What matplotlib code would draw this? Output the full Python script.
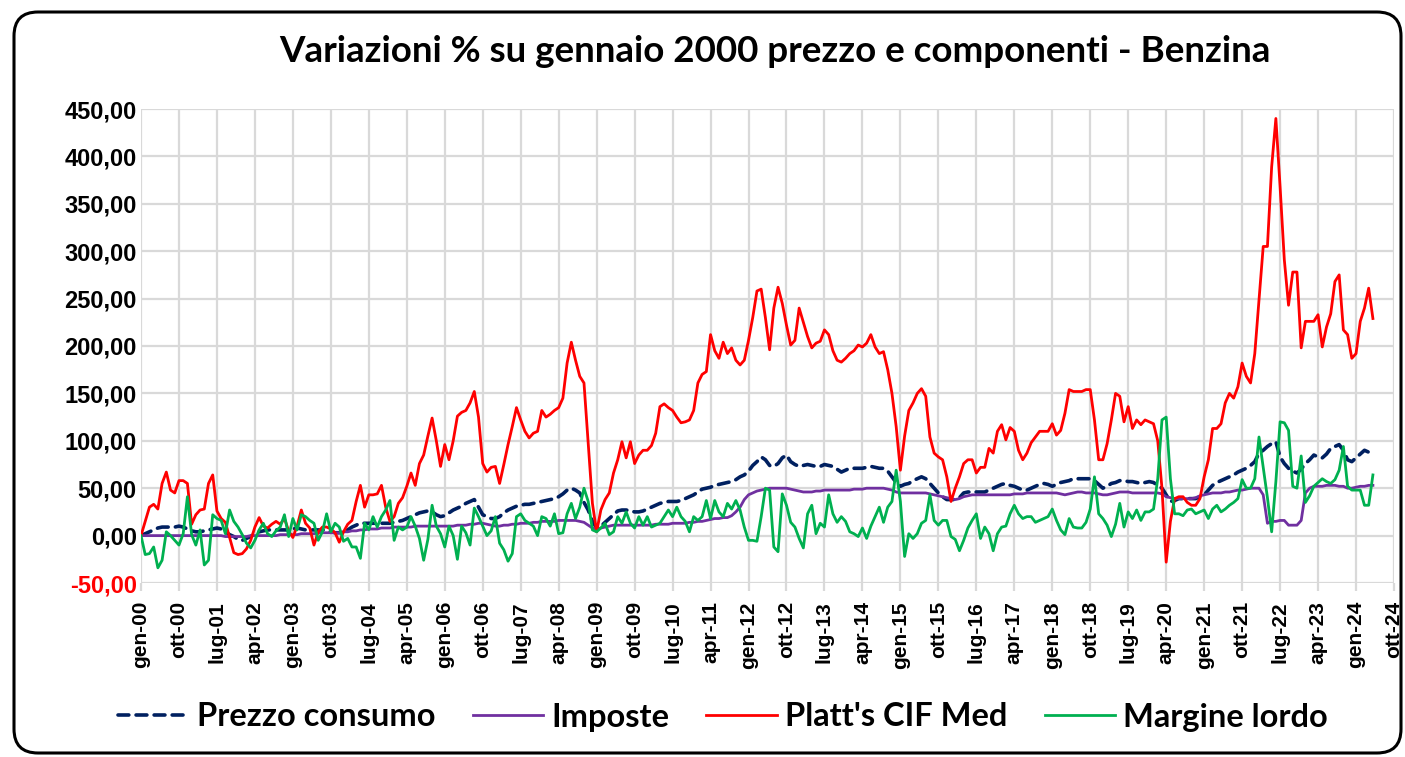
import numpy as np
import matplotlib
matplotlib.use("Agg")
import matplotlib.pyplot as plt
from matplotlib.patches import FancyBboxPatch
from matplotlib.transforms import IdentityTransform

TITLE = "Variazioni % su gennaio 2000 prezzo e componenti - Benzina"
SERIES_NAMES = ["Prezzo consumo", "Imposte", "Platt's CIF Med", "Margine lordo"]
TICK_LABELS = ["gen-00", "ott-00", "lug-01", "apr-02", "gen-03", "ott-03", "lug-04",
               "apr-05", "gen-06", "ott-06", "lug-07", "apr-08", "gen-09", "ott-09",
               "lug-10", "apr-11", "gen-12", "ott-12", "lug-13", "apr-14", "gen-15",
               "ott-15", "lug-16", "apr-17", "gen-18", "ott-18", "lug-19", "apr-20",
               "gen-21", "ott-21", "lug-22", "apr-23", "gen-24", "ott-24"]
Y_TICKS = [-50, 0, 50, 100, 150, 200, 250, 300, 350, 400, 450]

# monthly values, gen-00 .. mag-24 (one row per year)
prezzo_consumo = [
    0, 2, 4, 6, 8, 9, 9, 9, 9, 10, 9, 7,
    5, 4, 4, 5, 6, 7, 8, 7, 4, 1, -1, -4,
    -5, -3, -1, 2, 4, 5, 6, 6, 6, 6, 6, 6,
    7, 8, 7, 6, 6, 6, 6, 6, 5, 4, 3, 3,
    4, 6, 9, 11, 13, 13, 13, 13, 13, 13, 13, 13,
    14, 15, 16, 18, 20, 22, 24, 25, 26, 25, 22, 20,
    21, 24, 27, 29, 31, 34, 36, 38, 30, 22, 20, 18,
    18, 20, 24, 27, 29, 31, 32, 33, 33, 34, 35, 36,
    37, 38, 39, 41, 44, 48, 50, 48, 45, 35, 27, 15,
    8, 10, 14, 18, 22, 26, 27, 27, 26, 25, 25, 26,
    28, 30, 32, 34, 35, 36, 36, 36, 37, 39, 41, 43,
    46, 49, 50, 51, 53, 54, 55, 56, 57, 59, 62, 64,
    68, 74, 78, 83, 80, 74, 73, 76, 82, 85, 78, 75,
    73, 74, 75, 74, 73, 73, 75, 74, 73, 70, 67, 69,
    71, 71, 71, 71, 72, 73, 72, 71, 71, 68, 62, 56,
    52, 54, 55, 58, 60, 62, 60, 55, 50, 45, 41, 38,
    38, 38, 40, 45, 46, 46, 46, 46, 46, 48, 50, 52,
    54, 55, 53, 52, 50, 48, 48, 50, 52, 54, 55, 54,
    52, 54, 56, 57, 58, 60, 60, 60, 60, 60, 58, 54,
    50, 52, 55, 56, 58, 58, 57, 57, 56, 55, 56, 57,
    56, 53, 50, 43, 36, 37, 39, 39, 39, 39, 39, 41,
    43, 48, 53, 56, 58, 60, 62, 64, 67, 69, 71, 74,
    78, 87, 90, 94, 97, 99, 83, 76, 71, 68, 66, 70,
    76, 80, 85, 83, 82, 86, 92, 94, 96, 90, 80, 78,
    82, 86, 90, 88, 85,
]

imposte = [
    0, 0, 0, 0, 0, 0, 0, 0, 0, 0, 0, 0,
    0, 0, 0, 0, 0, 0, 0, 0, -1, -1, -1, -1,
    -1, -1, 0, 0, 0, 0, 0, 0, 0, 1, 1, 1,
    1, 1, 2, 2, 2, 2, 3, 3, 3, 3, 3, 3,
    4, 4, 5, 5, 6, 6, 7, 7, 7, 8, 8, 8,
    9, 9, 9, 9, 9, 10, 10, 10, 10, 10, 10, 10,
    10, 10, 10, 11, 11, 11, 12, 12, 13, 13, 12, 11,
    10, 10, 11, 11, 12, 12, 13, 13, 13, 14, 14, 15,
    15, 15, 15, 16, 16, 16, 16, 16, 15, 14, 11, 8,
    7, 8, 9, 10, 11, 11, 11, 11, 11, 11, 11, 11,
    11, 11, 12, 12, 12, 12, 13, 13, 13, 13, 14, 14,
    15, 15, 16, 17, 18, 18, 19, 19, 21, 25, 30, 38,
    43, 45, 47, 48, 49, 50, 50, 50, 50, 50, 49, 48,
    47, 46, 46, 46, 47, 47, 48, 48, 48, 48, 48, 48,
    48, 49, 49, 49, 50, 50, 50, 50, 50, 49, 48, 46,
    45, 45, 45, 45, 45, 45, 45, 44, 43, 42, 41, 40,
    39, 38, 39, 41, 42, 43, 43, 43, 43, 43, 43, 43,
    43, 43, 43, 44, 44, 44, 45, 45, 45, 45, 45, 45,
    45, 45, 44, 43, 44, 45, 46, 46, 45, 45, 45, 44,
    43, 43, 44, 45, 46, 46, 46, 45, 45, 45, 45, 45,
    45, 45, 44, 41, 40, 39, 39, 39, 39, 39, 40, 42,
    43, 44, 45, 45, 45, 46, 46, 47, 48, 48, 49, 50,
    50, 50, 43, 13, 15, 15, 16, 16, 11, 11, 11, 16,
    45, 50, 52, 52, 52, 53, 53, 53, 52, 52, 50, 50,
    51, 52, 52, 53, 53,
]

platts_cif_med = [
    0, 15, 30, 33, 28, 55, 67, 48, 45, 58, 58, 55,
    12, 22, 27, 28, 55, 64, 26, 18, 14, -2, -18, -20,
    -19, -14, -5, 9, 19, 10, 8, 12, 15, 12, 18, 5,
    -2, 10, 27, 13, 8, -10, 4, 9, 9, 7, 3, -7,
    4, 12, 16, 36, 53, 30, 43, 43, 44, 53, 30, 15,
    20, 34, 40, 52, 66, 53, 76, 85, 105, 124, 100, 73,
    96, 80, 100, 126, 130, 132, 140, 152, 125, 76, 67, 72,
    73, 55, 75, 96, 115, 135, 122, 110, 103, 108, 110, 132,
    125, 128, 132, 135, 145, 182, 204, 185, 168, 161, 98, 34,
    4, 27, 38, 45, 66, 80, 99, 82, 99, 76, 85, 90,
    90, 95, 108, 136, 139, 135, 132, 125, 119, 120, 122, 132,
    161, 170, 173, 212, 195, 187, 204, 192, 198, 185, 180, 185,
    206, 230, 258, 260, 230, 196, 240, 262, 245, 222, 201, 206,
    240, 225, 210, 198, 203, 205, 217, 212, 195, 185, 183, 187,
    192, 195, 201, 199, 203, 212, 199, 192, 194, 175, 150, 115,
    69, 105, 132, 140, 150, 155, 147, 104, 87, 83, 80, 62,
    36, 50, 62, 76, 80, 80, 66, 72, 72, 92, 87, 110,
    117, 101, 114, 110, 90, 80, 87, 98, 104, 110, 110, 110,
    118, 106, 111, 129, 154, 152, 152, 152, 154, 154, 122, 80,
    80, 97, 122, 150, 147, 120, 136, 113, 122, 117, 122, 120,
    118, 100, 50, -28, 15, 39, 41, 41, 35, 32, 32, 39,
    62, 80, 113, 113, 118, 140, 150, 145, 157, 182, 168, 161,
    192, 249, 305, 305, 389, 440, 368, 291, 243, 278, 278, 198,
    226, 226, 226, 233, 199, 220, 234, 268, 275, 217, 212, 187,
    192, 226, 240, 261, 229,
]

margine_lordo = [
    0, -20, -19, -12, -34, -26, 4, 0, -5, -10, 2, 41,
    1, -10, 6, -31, -26, 22, 18, 16, 2, 27, 15, 9,
    1, -8, -13, -5, 6, 13, 2, -1, 5, 9, 22, -1,
    18, 6, 22, 20, 16, 13, -5, 4, 23, 4, 13, 9,
    -6, -3, -12, -12, -24, 13, 6, 20, 9, 20, 27, 37,
    -5, 9, 6, 9, 20, 10, -3, -26, -4, 32, 10, 2,
    -12, 10, 0, -25, 10, 3, -10, 29, 20, 10, 0, 5,
    20, -8, -15, -27, -19, 20, 23, 16, 13, 10, 0, 20,
    18, 10, 23, 2, 3, 23, 34, 18, 30, 50, 36, 6,
    4, 8, 13, 1, 4, 20, 13, 25, 13, 8, 20, 11,
    20, 9, 11, 13, 20, 27, 20, 30, 20, 15, 4, 20,
    16, 20, 37, 18, 37, 25, 20, 34, 28, 37, 27, 9,
    -5, -5, -6, 20, 50, 48, -12, -17, 44, 32, 14, 9,
    -3, -13, 23, 32, 2, 13, 9, 43, 23, 14, 20, 15,
    4, 2, -1, 8, -3, 10, 20, 30, 14, 30, 36, 69,
    36, -22, 2, -3, 2, 13, 16, 43, 16, 11, 16, 16,
    -1, -4, -16, -5, 8, 16, 23, -3, 9, 2, -16, 2,
    9, 10, 23, 32, 23, 18, 20, 20, 14, 16, 18, 20,
    28, 16, 6, 1, 18, 9, 8, 8, 14, 28, 62, 23,
    18, 11, -1, 12, 34, 9, 25, 18, 27, 16, 25, 25,
    28, 60, 122, 125, 60, 23, 23, 21, 27, 28, 23, 25,
    27, 18, 28, 32, 25, 28, 32, 35, 39, 59, 50, 50,
    60, 104, 72, 40, 4, 57, 120, 119, 111, 52, 50, 84,
    35, 42, 52, 56, 60, 57, 55, 59, 69, 94, 52, 48,
    48, 48, 32, 32, 64,
]

COLORS = ["#002060", "#7030A0", "#FF0000", "#00B050"]

W, H = 1405, 757
fig = plt.figure(figsize=(W / 100, H / 100), dpi=100)
fig.patch.set_facecolor("white")

# rounded frame of the chart area
frame = FancyBboxPatch((14, 4), 1387, 741,
                       boxstyle="round,pad=0,rounding_size=24",
                       transform=IdentityTransform(), fill=False,
                       edgecolor="black", linewidth=2.2)
fig.add_artist(frame)

x0, x1 = 141, 1394
ytop, ybot = 109, 583
ax = fig.add_axes([x0 / W, (H - ybot) / H, (x1 - x0) / W, (ybot - ytop) / H])

months = np.arange(len(platts_cif_med))

handles = []
h, = ax.plot(months[:len(prezzo_consumo)], prezzo_consumo, color=COLORS[0], lw=2.6,
             linestyle=(0, (3.0, 2.0)), dash_capstyle="round", zorder=3)
handles.append(h)
h, = ax.plot(months[:len(imposte)], imposte, color=COLORS[1], lw=2.0, zorder=4,
             solid_joinstyle="round")
handles.append(h)
h, = ax.plot(months[:len(platts_cif_med)], platts_cif_med, color=COLORS[2], lw=2.0,
             zorder=5, solid_joinstyle="round")
handles.append(h)
h, = ax.plot(months[:len(margine_lordo)], margine_lordo, color=COLORS[3], lw=2.0,
             zorder=6, solid_joinstyle="round")
handles.append(h)

tick_pos = [9 * i for i in range(len(TICK_LABELS))]
ax.set_xlim(0, tick_pos[-1])
ax.set_ylim(Y_TICKS[0], Y_TICKS[-1])
ax.set_xticks(tick_pos)
ax.set_xticklabels(TICK_LABELS, rotation=90, fontsize=15, fontweight="bold",
                   family="Liberation Sans")
ax.set_yticks(Y_TICKS)
ax.set_yticklabels([f"{v:.2f}".replace(".", ",") for v in Y_TICKS], fontsize=17,
                   fontweight="bold", family="Liberation Sans")
for lab, v in zip(ax.get_yticklabels(), Y_TICKS):
    if v < 0:
        lab.set_color("#FF0000")

for s in ax.spines.values():
    s.set_visible(False)
ax.grid(True, color="#d9d9d9", linewidth=1.6)
ax.set_axisbelow(True)
ax.tick_params(axis="y", length=0, pad=3)
ax.tick_params(axis="x", length=6, width=1.6, color="#d9d9d9", pad=7)

fig.text(775 / W, (H - 52) / H, TITLE, ha="center", va="center", fontsize=26.5,
         fontweight="bold", family="Lato")

fig.legend(handles, SERIES_NAMES, loc="center", bbox_to_anchor=(723 / W, (H - 717) / H),
           ncol=4, frameon=False, prop={"family": "Lato", "weight": "bold", "size": 23.5},
           handlelength=2.15, handletextpad=0.25, columnspacing=1.15)

fig.savefig("out.png", dpi=100)
